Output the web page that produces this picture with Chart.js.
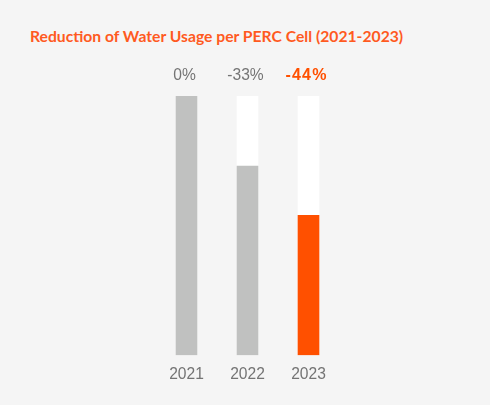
<!DOCTYPE html>
<html>
<head>
<meta charset="utf-8">
<script src="https://cdn.jsdelivr.net/npm/chart.js@4.4.1/dist/chart.umd.min.js"></script>
<style>
  html, body { margin: 0; padding: 0; background: #f5f5f5; }
  #wrap { position: relative; width: 490px; height: 405px; }
  #title {
    position: absolute; left: 30px; top: 27px;
    font-family: Lato, sans-serif; font-weight: 700; font-size: 15.7px;
    color: #ff5a1f; white-space: nowrap;
  }
  canvas { position: absolute; left: 0; top: 0; }
</style>
</head>
<body>
<div id="wrap">
  <div id="title">Reduction of Water Usage per PERC Cell (2021-2023)</div>
  <canvas id="water-chart" width="490" height="405"></canvas>
</div>
<script>
const years = ["2021", "2022", "2023"];
const usage = [100, 73, 54];
const fullScale = [100, 100, 100];
const changeLabels = ["0%", "-33%", "-44%"];
const barColors = ["#c0c1c0", "#c0c1c0", "#ff5000"];
const labelColors = ["#747474", "#747474", "#ff5000"];

const labelFont = '"Liberation Sans Narrow", sans-serif';

// writes the change labels above the white background bars
const topLabels = {
  id: "topLabels",
  afterDatasetsDraw(chart) {
    const ctx = chart.ctx;
    const meta = chart.getDatasetMeta(1);
    ctx.save();
    ctx.textAlign = "center";
    ctx.textBaseline = "middle";
    meta.data.forEach((bar, i) => {
      const last = i === changeLabels.length - 1;
      ctx.fillStyle = labelColors[i];
      ctx.font = (last ? "bold 16px " : "15.6px ") + labelFont;
      ctx.letterSpacing = last ? "1.2px" : "0px";
      ctx.fillText(changeLabels[i], bar.x - 2, bar.y - 20);
    });
    ctx.restore();
  },
};

new Chart(document.getElementById("water-chart"), {
  type: "bar",
  data: {
    labels: years,
    datasets: [
      {
        data: usage,
        backgroundColor: barColors,
        barThickness: 21,
        grouped: false,
        order: 1,
      },
      {
        data: fullScale,
        backgroundColor: "#ffffff",
        barThickness: 21,
        grouped: false,
        order: 2,
      },
    ],
  },
  options: {
    responsive: false,
    animation: false,
    layout: {
      padding: { top: 96, bottom: 11, left: 156, right: 151 },
    },
    scales: {
      x: {
        grid: { display: false, drawTicks: false },
        border: { display: false },
        ticks: {
          padding: 10,
          color: "#747474",
          font: { family: labelFont, size: 15.6 },
        },
      },
      y: {
        display: false,
        min: 0,
        max: 100,
      },
    },
    plugins: {
      legend: { display: false },
      tooltip: { enabled: false },
    },
  },
  plugins: [topLabels],
});
</script>
</body>
</html>
